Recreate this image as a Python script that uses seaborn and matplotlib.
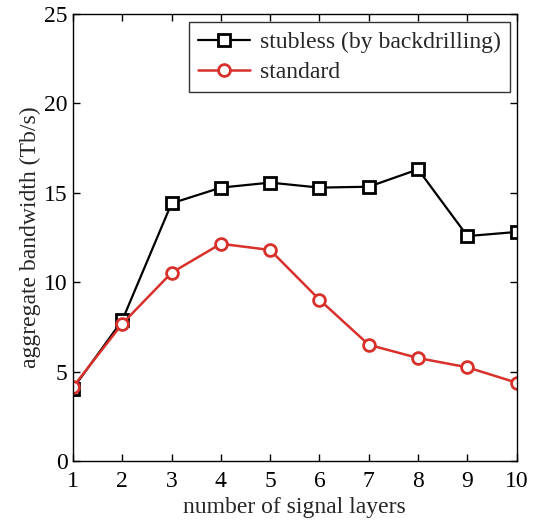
import matplotlib
matplotlib.use("Agg")
import matplotlib.pyplot as plt
import seaborn as sns
import pandas as pd

# Datos
layers = [1, 2, 3, 4, 5, 6, 7, 8, 9, 10]
stubless = [4.05, 7.87, 14.41, 15.29, 15.57, 15.29, 15.34, 16.31, 12.58, 12.81]
standard = [4.14, 7.68, 10.53, 12.15, 11.8, 9.02, 6.5, 5.76, 5.24, 4.38]
labels = ["stubless (by backdrilling)", "standard"]
yticks = [0, 5, 10, 15, 20, 25]

sns.set_style("ticks")
plt.rcParams.update({
    "font.family": ["Liberation Serif", "DejaVu Serif"],
    "mathtext.fontset": "stix",
    "xtick.direction": "in",
    "ytick.direction": "in",
    "xtick.top": True,
    "ytick.right": True,
    "axes.linewidth": 1.0,
    "axes.edgecolor": "black",
})

fig = plt.figure(figsize=(5.39, 5.24), dpi=100)
ax = fig.add_axes([0.1354, 0.1202, 0.8232, 0.8531])

df = pd.DataFrame({"layers": layers, "stubless": stubless, "standard": standard})

sns.lineplot(data=df, x="layers", y="stubless", ax=ax, color="black",
             marker="s", markersize=8, markerfacecolor="white",
             markeredgecolor="black", markeredgewidth=2.0, linewidth=1.6,
             label=labels[0])
sns.lineplot(data=df, x="layers", y="standard", ax=ax, color="#d8302b",
             marker="o", markersize=8.5, markerfacecolor="white",
             markeredgecolor="#d8302b", markeredgewidth=2.0, linewidth=1.8,
             label=labels[1])

ax.set_xlim(1, 10)
ax.set_ylim(0, 25)
ax.set_xticks(layers)
ax.set_yticks(yticks)
ax.tick_params(axis="both", which="both", length=5, width=1, labelsize=17,
               colors="black")
ax.tick_params(axis="x", pad=7)
ax.tick_params(axis="y", pad=4)
ax.set_xlabel("number of signal layers", fontsize=17, labelpad=4)
ax.set_ylabel("aggregate bandwidth (Tb/s)", fontsize=17, labelpad=2)

leg = ax.legend(loc="upper right", bbox_to_anchor=(0.985, 0.982),
                fontsize=17, frameon=True, fancybox=False,
                handlelength=2.2, handletextpad=0.4, borderpad=0.4,
                labelspacing=0.35, borderaxespad=0)
leg.get_frame().set_edgecolor("black")
leg.get_frame().set_linewidth(1.0)

fig.savefig("out.png", dpi=100)
